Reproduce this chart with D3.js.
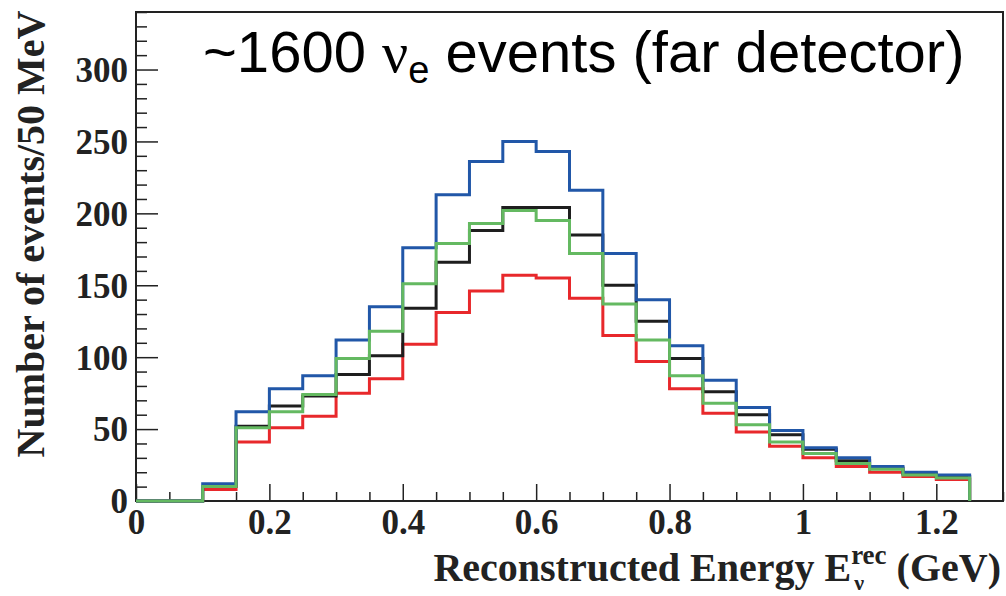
<!DOCTYPE html>
<html>
<head>
<meta charset="utf-8">
<script src="https://cdn.jsdelivr.net/npm/d3@7"></script>
<style>
  body { margin: 0; background: #fff; }
  svg { display: block; }
</style>
</head>
<body>
<div id="chart"></div>
<script>
// bin edges: 0 .. 1.25 GeV in 50 MeV steps
const binLow = [0, 0.05, 0.1, 0.15, 0.2, 0.25, 0.3, 0.35, 0.4, 0.45, 0.5, 0.55, 0.6,
                0.65, 0.7, 0.75, 0.8, 0.85, 0.9, 0.95, 1.0, 1.05, 1.1, 1.15, 1.2];
const binHigh = 1.25;

const blueCounts  = [0, 0, 12, 62, 78, 87, 112, 135, 176, 213, 236, 250, 243,
                     216, 172, 140, 108, 84, 65, 49, 37, 30, 24, 20, 18];
const blackCounts = [0, 0, 10, 52, 66, 73, 88, 101, 134, 166, 188, 204, 204,
                     185, 150, 125, 99, 76, 60, 46, 36, 28, 23, 19, 17];
const redCounts   = [0, 0, 8, 41, 51, 59, 75, 85, 109, 131, 146, 157, 155,
                     141, 115, 97, 78, 61, 48, 38, 30, 24, 20, 17, 15];
const greenCounts = [0, 0, 10, 51, 62, 74, 99, 118, 151, 179, 193, 202, 195,
                     172, 137, 112, 87, 68, 53, 41, 33, 26, 22, 18, 16];

const series = [
  { name: "red",   values: redCounts,   color: "#e8282b" },
  { name: "black", values: blackCounts, color: "#1e1e1e" },
  { name: "blue",  values: blueCounts,  color: "#2157a8" },
  { name: "green", values: greenCounts, color: "#64b961" }
];

const yMajor = [0, 50, 100, 150, 200, 250, 300];
const xMajor = [0, 0.2, 0.4, 0.6, 0.8, 1.0, 1.2];

const width = 1006, height = 596;
const frame = { left: 136, right: 1003, top: 12, bottom: 501 };

const svg = d3.select("#chart").append("svg")
    .attr("width", width)
    .attr("height", height);

const x = d3.scaleLinear().domain([0, 1.3]).range([frame.left, frame.right]);
const y = d3.scaleLinear().domain([0, 340]).range([frame.bottom, frame.top]);

const serif = "'Liberation Serif', 'DejaVu Serif', serif";
const sans = "'Liberation Sans', Arial, sans-serif";

// frame box
svg.append("rect")
    .attr("x", frame.left).attr("y", frame.top)
    .attr("width", frame.right - frame.left)
    .attr("height", frame.bottom - frame.top)
    .attr("fill", "none")
    .attr("stroke", "#222")
    .attr("stroke-width", 2);

// minor ticks
const yMinor = d3.range(0, 341, 10).filter(v => v % 50 !== 0);
const xMinor = d3.range(0, 27).map(i => +(i * 0.05).toFixed(2)).filter(v => Math.round(v * 100) % 20 !== 0);

svg.append("g")
    .attr("transform", `translate(${frame.left},0)`)
    .call(d3.axisLeft(y).tickValues(yMinor).tickSizeInner(-11).tickSizeOuter(0).tickFormat(""))
    .call(g => g.select(".domain").remove())
    .selectAll("line").attr("stroke", "#222").attr("stroke-width", 1.5);

svg.append("g")
    .attr("transform", `translate(0,${frame.bottom})`)
    .call(d3.axisBottom(x).tickValues(xMinor).tickSizeInner(-9).tickSizeOuter(0).tickFormat(""))
    .call(g => g.select(".domain").remove())
    .selectAll("line").attr("stroke", "#222").attr("stroke-width", 1.5);

// major ticks with labels
const yAxis = svg.append("g")
    .attr("transform", `translate(${frame.left},0)`)
    .call(d3.axisLeft(y).tickValues(yMajor).tickSizeInner(-22).tickSizeOuter(0).tickPadding(8).tickFormat(d3.format("d")));
yAxis.select(".domain").remove();
yAxis.selectAll("line").attr("stroke", "#222").attr("stroke-width", 1.5);
yAxis.selectAll("text")
    .attr("fill", "#222")
    .style("font-family", serif)
    .style("font-weight", "bold")
    .style("font-size", "35px")
    .attr("dy", "0.34em");

const xAxis = svg.append("g")
    .attr("transform", `translate(0,${frame.bottom})`)
    .call(d3.axisBottom(x).tickValues(xMajor).tickSizeInner(-17).tickSizeOuter(0).tickPadding(8)
        .tickFormat(d => d === 0 ? "0" : d === 1 ? "1" : d3.format(".1f")(d)));
xAxis.select(".domain").remove();
xAxis.selectAll("line").attr("stroke", "#222").attr("stroke-width", 1.5);
xAxis.selectAll("text")
    .attr("fill", "#222")
    .style("font-family", serif)
    .style("font-weight", "bold")
    .style("font-size", "35px")
    .attr("dy", "0.7em");

// histograms
const stepLine = d3.line()
    .x(d => x(d[0]))
    .y(d => y(d[1]))
    .curve(d3.curveStepAfter);

series.forEach(s => {
  const pts = binLow.map((lo, i) => [lo, s.values[i]]);
  pts.push([binHigh, s.values[s.values.length - 1]]);
  const path = stepLine(pts) + `L${x(binHigh)},${y(0)}`;
  svg.append("path")
      .attr("d", path)
      .attr("fill", "none")
      .attr("stroke", s.color)
      .attr("stroke-width", 3)
      .attr("stroke-linejoin", "miter");
});

// y axis title
svg.append("text")
    .attr("transform", `translate(44,234) rotate(-90)`)
    .attr("text-anchor", "middle")
    .attr("fill", "#222")
    .style("font-family", serif)
    .style("font-weight", "bold")
    .style("font-size", "40px")
    .text("Number of events/50 MeV");

// x axis title
const xt = svg.append("text")
    .attr("x", 1001)
    .attr("y", 581)
    .attr("text-anchor", "end")
    .attr("fill", "#222")
    .style("font-family", serif)
    .style("font-weight", "bold")
    .style("font-size", "40px");
xt.append("tspan").text("Reconstructed Energy E");
xt.append("tspan").attr("dy", -17).style("font-size", "27px").text("rec");
xt.append("tspan").attr("dy", 17).text(" (GeV)");

// subscript nu sits under the superscript, right after the E
const eIndex = "Reconstructed Energy ".length;
const eEnd = xt.node().getEndPositionOfChar(eIndex).x;
svg.append("text")
    .attr("x", eEnd + 3)
    .attr("y", 590)
    .attr("fill", "#222")
    .style("font-family", serif)
    .style("font-weight", "bold")
    .style("font-size", "22px")
    .text("ν");

// title
const title = svg.append("text")
    .attr("x", 203)
    .attr("y", 72)
    .attr("fill", "#000")
    .style("font-family", sans)
    .style("font-size", "58px");
title.append("tspan").text("~1600 ");
title.append("tspan").style("font-family", serif).text("ν");
title.append("tspan").attr("dy", 11).style("font-size", "38px").text("e");
title.append("tspan").attr("dy", -11).text(" events (far detector)");
</script>
</body>
</html>
